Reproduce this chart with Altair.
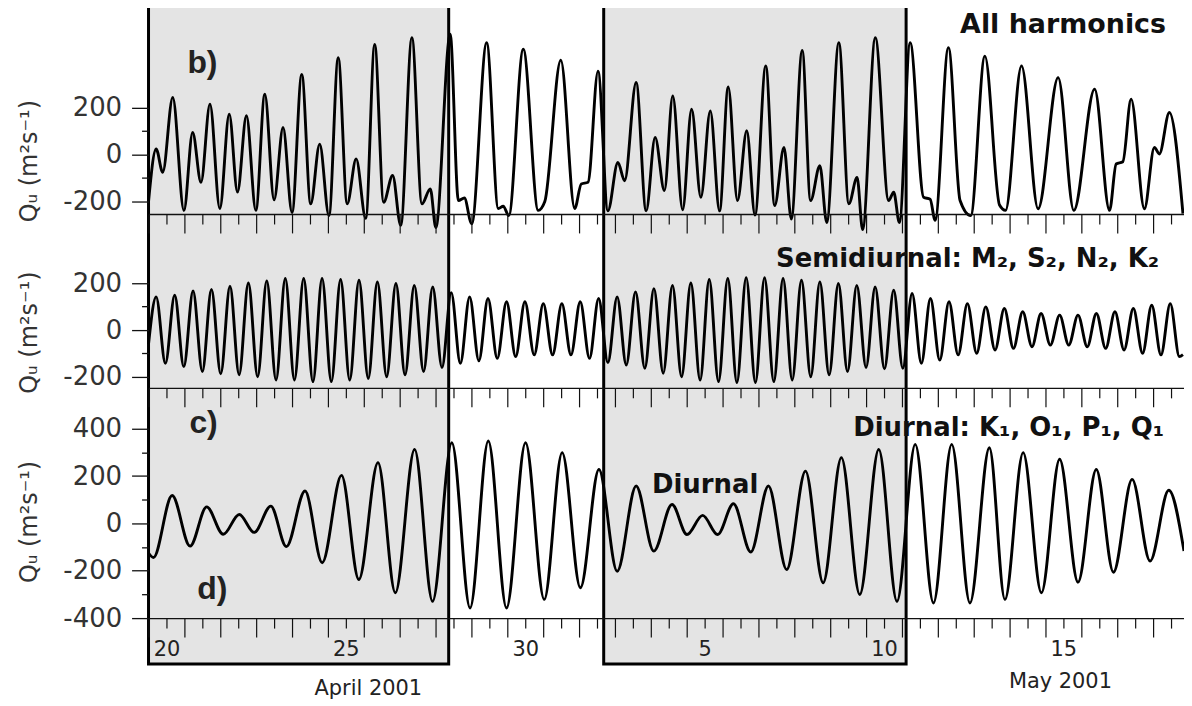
import altair as alt
import pandas as pd

# ---------------- data (time = hours since 2001-04-20 00:00) ----------------
all_hours = [0.0, 5.1, 9.5, 16.2, 23.7, 29.5, 35.1, 41.1, 47.7, 54.0,
             59.5, 65.5, 71.8, 77.8, 84.0, 90.0, 96.0, 102.5, 108.5, 114.5,
             120.7, 126.9, 132.9, 138.9, 145.3, 151.3, 157.3, 163.3, 168.7, 176.2,
             182.9, 188.5, 192.2, 201.8, 207.3, 211.3, 216.2, 226.2, 234.0, 237.3,
             241.0, 250.7, 260.7, 265.1, 275.8, 285.1, 289.5, 294.0, 300.7, 307.3,
             314.0, 318.5, 326.2, 332.9, 338.9, 345.1, 350.7, 357.3, 363.3, 369.5,
             375.8, 382.0, 387.8, 394.0, 400.2, 405.7, 412.9, 418.9, 425.1, 430.0,
             437.3, 442.9, 449.1, 453.7, 461.8, 468.5, 474.0, 477.7, 486.2, 495.1,
             498.5, 502.3, 509.5, 518.5, 522.9, 526.2, 535.1, 542.9, 550.0, 559.5,
             569.3, 573.3, 584.0, 595.1, 608.5, 619.0, 632.9, 642.9, 647.3, 651.8,
             657.3, 666.2, 672.9, 676.2, 682.9, 692.0]
all_q = [-200, 24, -75, 244, -238, 95, -118, 216, -230, 173,
         -160, 166, -238, 258, -193, 116, -247, 343, -210, 45,
         -260, 414, -210, -18, -272, 471, -203, -89, -302, 499,
         -210, -146, -311, 514, -196, -185, -295, 478, -230, -220,
         -260, 450, -238, -200, 403, -230, -125, -118, 357, -240,
         -33, -111, 308, -240, 74, -153, 251, -235, 194, -182,
         187, -240, 289, -196, 102, -258, 379, -217, 31, -275,
         445, -196, -47, -290, 478, -210, -97, -320, 499, -196,
         -160, -290, 478, -182, -190, -280, 457, -196, -260, 421,
         -215, -238, 379, -231, 329, -238, 280, -238, -40, -30,
         237, -231, 31, 3, 180, -252]

semi_hours = [0.0,
              5.1, 11.3, 17.5, 23.6, 29.8, 36.0, 42.1, 48.3, 54.5, 60.6,
              66.8, 73.0, 79.1, 85.3, 91.5, 97.6, 103.8, 110.0, 116.1, 122.3,
              128.5, 134.6, 140.8, 147.0, 153.1, 159.3, 165.5, 171.6, 177.8, 184.0,
              190.1, 196.3, 202.5, 208.6, 214.8, 221.0, 227.1, 233.3, 239.5, 245.6,
              251.8, 258.0, 264.1, 270.3, 276.5, 282.6, 288.8, 295.0, 301.1, 307.3,
              313.5, 319.6, 325.8, 332.0, 338.1, 344.3, 350.5, 356.6, 362.8, 369.0,
              375.1, 381.3, 387.5, 393.6, 399.8, 406.0, 412.1, 418.3, 424.5, 430.6,
              436.8, 443.0, 449.1, 455.3, 461.5, 467.6, 473.8, 480.0, 486.1, 492.3,
              498.5, 504.6, 510.8, 517.0, 523.1, 529.3, 535.5, 541.6, 547.8, 554.0,
              560.1, 566.3, 572.5, 578.6, 584.8, 591.0, 597.1, 603.3, 609.5, 615.6,
              621.8, 628.0, 634.1, 640.3, 646.5, 652.6, 658.8, 665.0, 671.1, 677.3,
              683.5, 689.6, 692.0]
semi_q = [-60,
          142, -142, 149, -156, 167, -177, 173, -187, 187, -191,
          201, -199, 210, -213, 220, -213, 220, -220, 220, -220,
          216, -213, 213, -206, 206, -199, 199, -191, 191, -177,
          184, -160, 160, -142, 142, -131, 135, -121, 121, -113,
          121, -106, 113, -106, 113, -106, 121, -121, 135, -139,
          142, -149, 163, -163, 177, -184, 191, -199, 201, -213,
          216, -220, 220, -224, 224, -224, 224, -220, 220, -213,
          213, -199, 206, -191, 199, -177, 191, -160, 184, -165,
          170, -163, 156, -142, 135, -128, 121, -106, 113, -99,
          99, -85, 92, -78, 78, -71, 71, -64, 64, -64,
          64, -71, 71, -78, 78, -85, 92, -99, 106, -106,
          113, -113, -105]

diurnal_hours = [0.0, 3.3, 15.8, 27.8, 38.9, 50.0, 60.7, 70.7, 81.8, 92.2,
                 104.7, 116.2, 129.1, 140.7, 153.5, 165.1, 178.0, 190.0, 202.9, 215.1,
                 227.3, 239.5, 252.2, 264.7, 276.7, 288.9, 301.3, 313.5, 326.2, 338.0,
                 350.2, 360.2, 370.7, 380.7, 391.3, 402.9, 414.7, 426.9, 439.5, 451.3,
                 463.5, 475.8, 488.5, 500.7, 512.9, 525.1, 537.3, 549.5, 562.5, 572.9,
                 585.1, 597.3, 609.5, 621.8, 634.0, 645.5, 658.0, 670.0, 682.5, 692.7]
diurnal_q = [-125, -144, 118, -96, 70, -46, 38, -38, 73, -98,
             137, -166, 203, -237, 257, -293, 313, -329, 341, -357,
             348, -357, 341, -321, 299, -272, 228, -202, 158, -117,
             80, -47, 34, -47, 83, -121, 158, -195, 221, -251,
             278, -300, 313, -329, 334, -336, 334, -336, 320, -321,
             299, -293, 271, -248, 228, -206, 186, -159, 140, -117]

box_start_hours = [0.0, 304.5]
box_end_hours = [200.8, 506.8]

midnight_ticks = list(range(0, 693, 24))
noon_ticks = list(range(12, 693, 24))
day_label_hours = [12, 132, 252, 372, 492, 612]
day_labels = ["20", "25", "30", "5", "10", "15"]
month_labels = ["April 2001", "May 2001"]

y_major_12 = [-200, 0, 200]
y_minor_12 = [-100, 100]
y_major_3 = [-400, -200, 0, 200, 400]
y_minor_3 = [-300, -100, 100, 300]

panel_titles = ["All harmonics", "Semidiurnal: M\u2082, S\u2082, N\u2082, K\u2082",
                "Diurnal: K\u2081, O\u2081, P\u2081, Q\u2081"]
panel_letters = ["b)", "c)", "d)"]
inner_label = "Diurnal"
y_title = "Q\u1d64 (m\u00b2s\u207b\u00b9)"

# ---------------- layout ----------------
W, H = 1039, 656
X_DOMAIN = [0, 692.7]
P1 = ([-253.2, 617.0], [204.5, 0])
P2 = ([-246.8, 495.7], [379, 204.5])
P3 = ([-400, 572.6], [610, 379])

df1 = pd.DataFrame({"h": all_hours, "q": all_q})
df2 = pd.DataFrame({"h": semi_hours, "q": semi_q})
df3 = pd.DataFrame({"h": diurnal_hours, "q": diurnal_q})


def xscale():
    return alt.Scale(domain=X_DOMAIN, nice=False, zero=False)


def x_axis(values, offset, size, domain):
    return alt.Axis(values=values, orient="bottom", offset=offset, tickSize=size,
                    tickWidth=1.2, tickColor="#111", domain=domain, domainColor="#111",
                    domainWidth=1.3, labels=False, grid=False, title=None, zindex=1)


def y_major_axis(values, title_y):
    return alt.Axis(values=values, orient="left", tickSize=17, tickWidth=1.3,
                    tickColor="#111", domain=False, grid=False,
                    labelFont="DejaVu Sans", labelFontSize=26, labelColor="#333",
                    labelPadding=10,
                    labelExpr="(datum.value < 0 ? '-' : '') + abs(datum.value)",
                    title=y_title, titleFont="DejaVu Sans", titleFontSize=24,
                    titleFontWeight="normal", titleColor="#333", titleAngle=270,
                    titleX=-119, titleY=title_y, titleBaseline="middle",
                    titleAlign="center", zindex=1)


def y_minor_axis(values):
    return alt.Axis(values=values, orient="left", tickSize=7, tickWidth=1.3,
                    tickColor="#111", domain=False, grid=False, labels=False,
                    title=None, zindex=1)


def series(df, panel, xaxis, yaxis, visible=True):
    dom, rng = panel
    return alt.Chart(df).mark_line(
        interpolate="monotone", color="black", strokeWidth=2.9,
        strokeOpacity=1 if visible else 0, strokeJoin="round"
    ).encode(
        x=alt.X("h:Q", scale=xscale(), axis=xaxis),
        y=alt.Y("q:Q", scale=alt.Scale(domain=dom, range=rng, nice=False, zero=False),
                axis=yaxis),
    )


label_expr = ""
for hh, lab in zip(day_label_hours, day_labels):
    label_expr += f"datum.value == {hh} ? '{lab}' : "
label_expr += "''"

x_label_axis = alt.Axis(values=day_label_hours, orient="bottom", offset=-46, ticks=False,
                        tickSize=0, domain=False, grid=False, labelExpr=label_expr,
                        labelFont="DejaVu Sans", labelFontSize=21, labelColor="#222",
                        labelPadding=21, labelFlush=False, title=None, zindex=1)

boxes = alt.Chart(pd.DataFrame({"s": box_start_hours, "e": box_end_hours})).mark_rect(
    fill="#e4e4e4", stroke="black", strokeWidth=3
).encode(
    x=alt.X("s:Q", scale=xscale(), axis=None),
    x2="e:Q",
    y=alt.value(-4),
    y2=alt.value(H),
)


def text(t, x, y, size, bold=True, align="left", font="DejaVu Sans", color="#111"):
    return alt.Chart(pd.DataFrame({"t": [t]})).mark_text(
        font=font, fontSize=size, fontWeight="bold" if bold else "normal",
        align=align, baseline="alphabetic", color=color
    ).encode(text="t:N", x=alt.value(x), y=alt.value(y))


texts = [
    text(panel_letters[0], 39, 62.7, 32, font="Liberation Sans", color="#222"),
    text(panel_letters[1], 41, 424.3, 32, font="Liberation Sans", color="#222"),
    text(panel_letters[2], 49, 591, 32, font="Liberation Sans", color="#222"),
    text(panel_titles[0], 1021, 22.7, 27, align="right"),
    text(panel_titles[1], 1014, 257.7, 26, align="right"),
    text(panel_titles[2], 1019, 427.7, 26, align="right"),
    text(inner_label, 558.5, 484, 26, align="center"),
    text(month_labels[0], 220.5, 687, 21, bold=False, align="center", color="#222"),
    text(month_labels[1], 915, 680, 21, bold=False, align="center", color="#222"),
]

layers = [
    boxes,
    series(df1, P1, x_axis(midnight_ticks, -451.5, 19, True), y_major_axis(y_major_12, 151)),
    series(df1, P1, x_axis(noon_ticks, -451.5, 10, False), y_minor_axis(y_minor_12), False),
    series(df2, P2, x_axis(midnight_ticks, -277, 19, True), y_major_axis(y_major_12, 323)),
    series(df2, P2, x_axis(noon_ticks, -277, 10, False), y_minor_axis(y_minor_12), False),
    series(df3, P3, x_axis(midnight_ticks, -46, 19, True), y_major_axis(y_major_3, 513)),
    series(df3, P3, x_axis(noon_ticks, -46, 10, False), y_minor_axis(y_minor_3), False),
    series(df3, P3, x_label_axis, None, False),
] + texts

chart = alt.layer(*layers).resolve_scale(y="independent").resolve_axis(
    x="independent", y="independent"
).properties(
    width=W, height=H,
    autosize=alt.AutoSizeParams(type="none"),
    padding={"left": 141, "top": 1, "right": 0, "bottom": 40},
    background="white",
).configure_view(strokeWidth=0)

chart.save("out.html", embed_options={"renderer": "svg", "actions": False})
